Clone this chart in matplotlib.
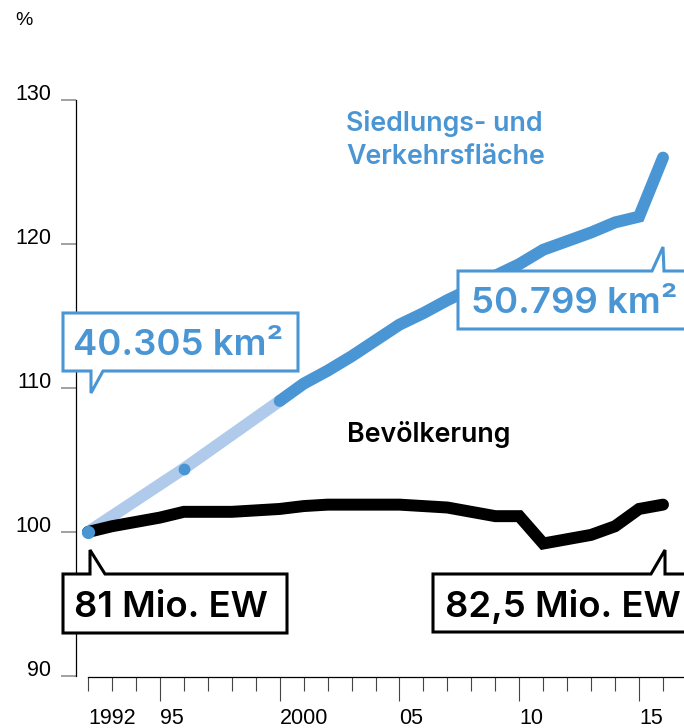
import numpy as np
import matplotlib
matplotlib.use("Agg")
import matplotlib.pyplot as plt
from matplotlib.patches import Polygon

# --- data (index, 1992 = 100) ---
years = np.arange(1992, 2017)
bevoelkerung = [100.0, 100.4, 100.7, 101.0, 101.4, 101.4, 101.4, 101.5, 101.6,
                101.8, 101.9, 101.9, 101.9, 101.9, 101.8, 101.7, 101.4, 101.1,
                101.1, 99.2, 99.5, 99.8, 100.4, 101.6, 101.9]
flaeche_years_early = [1992, 1996, 2000]
flaeche_early = [100.0, 104.4, 109.1]
flaeche_years = np.arange(2000, 2017)
flaeche = [109.1, 110.3, 111.2, 112.2, 113.3, 114.4, 115.2, 116.1, 116.9,
           117.8, 118.6, 119.6, 120.2, 120.8, 121.5, 121.9, 126.0]
yticks = [90, 100, 110, 120, 130]
xmajor = [1995, 2000, 2005, 2010, 2015]
xmajor_labels = ["95", "2000", "05", "10", "15"]

BLUE = "#4a96d4"
LIGHT = "#afcaeb"
W, H = 684, 728
FONT = "Liberation Sans"
LABEL_FONT = ["Inter", "Liberation Sans", "DejaVu Sans"]

plt.rcParams['font.family'] = [FONT, 'DejaVu Sans']

fig = plt.figure(figsize=(W / 100, H / 100), dpi=100)

# pixel layout of the plot area
x0_px, x1992_px, x2016_px = 76, 88, 663
y100_px, y130_px, ybot_px = 532, 100, 677
px_yr = (x2016_px - x1992_px) / 24
px_unit = (y100_px - y130_px) / 30

ax = fig.add_axes([x0_px / W, (H - ybot_px) / H, 1 - x0_px / W, ybot_px / H])
ax.set_xlim(1992 - (x1992_px - x0_px) / px_yr, 2016 + (W - x2016_px) / px_yr)
ax.set_ylim(100 - (ybot_px - y100_px) / px_unit, 100 + y100_px / px_unit)

ax.plot(flaeche_years_early, flaeche_early, color=LIGHT, lw=8.6,
        solid_capstyle='round', zorder=2, clip_on=False)
ax.plot(flaeche_years, flaeche, color=BLUE, lw=8.6, solid_capstyle='round',
        solid_joinstyle='miter', zorder=3, clip_on=False)
ax.plot(years, bevoelkerung, color='black', lw=8.6, solid_capstyle='round',
        solid_joinstyle='miter', zorder=4, clip_on=False)
ax.plot(flaeche_years_early[1], flaeche_early[1], 'o', color=BLUE, ms=8.5,
        mew=0, zorder=3)
ax.plot(flaeche_years_early[0], flaeche_early[0], 'o', color=BLUE, ms=9.5,
        mew=0, zorder=5, clip_on=False)

for s in ['top', 'right']:
    ax.spines[s].set_visible(False)
ax.spines['left'].set_bounds(90, 130)
ax.spines['bottom'].set_bounds(1992, ax.get_xlim()[1])
ax.spines['left'].set_linewidth(0.9)
ax.spines['bottom'].set_linewidth(0.9)

ax.set_yticks(yticks, [str(v) for v in yticks])
ax.tick_params(axis='y', length=10.8, width=1.1, color='#888888', pad=7,
               labelsize=15.5)
for t in ax.get_yticklabels():
    t.set_va('baseline')

minor = [y for y in years if y not in xmajor]
ax.set_xticks(xmajor, xmajor_labels)
ax.set_xticks(minor, ["1992"] + [""] * (len(minor) - 1), minor=True)
ax.tick_params(axis='x', which='major', length=17, width=0.8, color='#444444',
               pad=5, labelsize=15.5)
ax.tick_params(axis='x', which='minor', length=10.3, width=0.8,
               color='#444444', pad=5 + 17 - 10.3, labelsize=15.5)
for t in ax.get_xticklabels(which='both'):
    t.set_ha('left')


def fxy(px, py):
    return px / W, 1 - py / H


def callout(points, color):
    poly = Polygon([fxy(*p) for p in points], closed=True, facecolor='white',
                   edgecolor=color, lw=2.2, joinstyle='miter',
                   transform=fig.transFigure, zorder=6)
    fig.add_artist(poly)


callout([(63, 313), (298, 313), (298, 371), (103, 371), (91, 393), (91, 371),
         (63, 371)], BLUE)
callout([(458, 329), (458, 271), (652, 271), (663, 247), (664, 271),
         (692, 271), (692, 329)], BLUE)
callout([(63, 633), (63, 574), (90, 574), (90, 550), (105, 574), (287, 574),
         (287, 633)], 'black')
callout([(433, 632), (433, 574), (651, 574), (665, 550), (665, 574),
         (692, 574), (692, 632)], 'black')

big = dict(fontsize=26.3, fontweight='semibold', va='baseline', zorder=7,
           family=LABEL_FONT)
fig.text(*fxy(73, 355), "40.305 km²", color=BLUE, **big)
fig.text(*fxy(471, 313), "50.799 km²", color=BLUE, **big)
fig.text(*fxy(74, 617), "81 Mio. EW", color='black', **big)
fig.text(*fxy(445, 617), "82,5 Mio. EW", color='black', **big)

# baseline of the last line sits at the given y
fig.text(*fxy(346, 164), "Siedlungs- und\nVerkehrsfläche", color=BLUE,
         fontsize=19.3, fontweight='semibold', va='baseline', linespacing=1.36,
         family=LABEL_FONT)
fig.text(*fxy(347, 442), "Bevölkerung", color='black', fontsize=19.3,
         fontweight='semibold', va='baseline', family=LABEL_FONT)
fig.text(*fxy(15, 25), "%", color='black', fontsize=14, va='baseline')

fig.savefig("out.png", dpi=100)
